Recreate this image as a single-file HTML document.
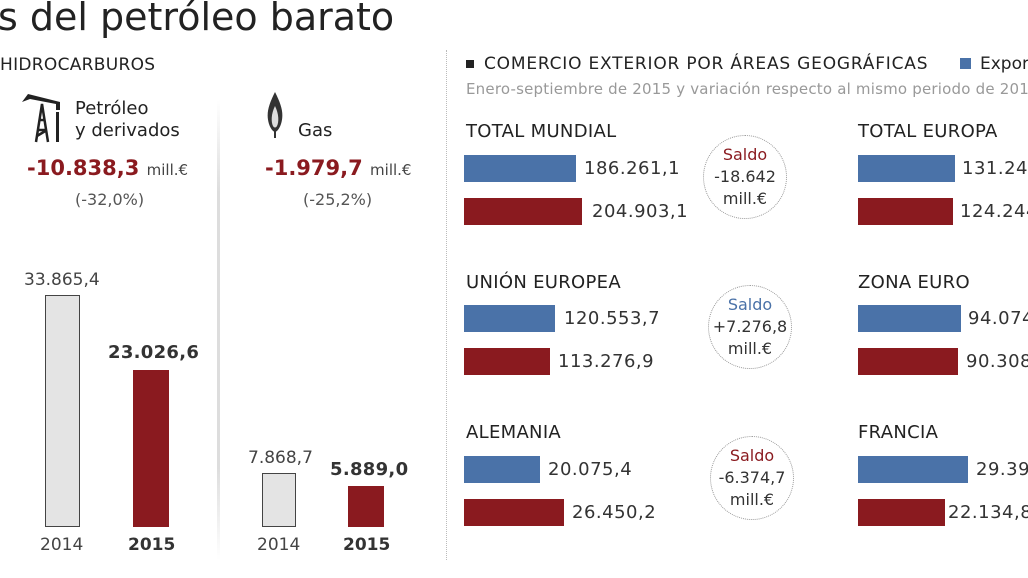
<!DOCTYPE html>
<html><head><meta charset="utf-8">
<style>
*{margin:0;padding:0;box-sizing:border-box}
body{width:1028px;height:578px;background:#fff;position:relative;overflow:hidden;font-family:"DejaVu Sans",sans-serif;color:#333}
.a{position:absolute;white-space:nowrap}
.bl{background:#4a72a8;position:absolute}
.rd{background:#8a1a1f;position:absolute}
.h{font-size:18px;color:#222;letter-spacing:0.3px}
.v{font-size:18px;color:#333;letter-spacing:0.5px}
.c{position:absolute;width:84px;height:84px;border:1.5px dotted #999;border-radius:50%;text-align:center;font-size:16px;line-height:22px;padding-top:8px;color:#333}
</style></head><body>
<div class="a" style="left:-2px;top:-5px;font-size:38px;color:#222">s del petróleo barato</div>
<div class="a" style="left:0;top:55px;font-size:17px;color:#222;letter-spacing:0.3px">HIDROCARBUROS</div>

<svg class="a" style="left:20px;top:90px" width="44" height="56" viewBox="0 0 44 56">
<path d="M2 12 L8 4 L40 12 L40 20 L36 20 L36 14 L10 9 Z" fill="#222"/>
<path d="M16 52 L22 14 L28 52 M18 40 L26 40 M19 30 L25 30 M17 46 L27 40" stroke="#222" stroke-width="2.5" fill="none"/>
<rect x="36" y="22" width="3" height="30" fill="#222"/>
</svg>
<div class="a" style="left:75px;top:98px;font-size:18px;color:#222;line-height:22px">Petróleo<br>y derivados</div>
<div class="a" style="left:27px;top:156px;font-size:21px;color:#8a1a1f;font-weight:bold">-10.838,3 <span style="font-size:15px;color:#444;font-weight:normal">mill.€</span></div>
<div class="a" style="left:75px;top:190px;font-size:16px;color:#555">(-32,0%)</div>

<div class="a" style="left:217px;top:100px;width:3px;height:460px;background:linear-gradient(#fff,#ddd 20%,#ddd 80%,#fff)"></div>

<svg class="a" style="left:266px;top:92px" width="18" height="48" viewBox="0 0 18 48">
<path d="M9 0 C2 14 0 22 3 32 C5 38 8 40 9 40 C10 40 13 38 15 32 C18 22 16 14 9 0Z" fill="#333"/>
<path d="M9 14 C5 22 5 30 7 34 C8 36 10 36 11 34 C13 30 13 22 9 14Z" fill="#ddd"/>
<rect x="8" y="38" width="2" height="8" fill="#333"/>
</svg>
<div class="a" style="left:298px;top:120px;font-size:18px;color:#222">Gas</div>
<div class="a" style="left:265px;top:156px;font-size:21px;color:#8a1a1f;font-weight:bold">-1.979,7 <span style="font-size:15px;color:#444;font-weight:normal">mill.€</span></div>
<div class="a" style="left:303px;top:190px;font-size:16px;color:#555">(-25,2%)</div>

<div class="a" style="left:24px;top:270px;font-size:17px;color:#444">33.865,4</div>
<div class="a" style="left:45px;top:295px;width:35px;height:232px;background:#e4e4e4;border:1.5px solid #444"></div>
<div class="a" style="left:108px;top:342px;font-size:18px;font-weight:bold;color:#333;letter-spacing:0.3px">23.026,6</div>
<div class="rd" style="left:133px;top:370px;width:36px;height:157px"></div>
<div class="a" style="left:40px;top:535px;font-size:17px;color:#444">2014</div>
<div class="a" style="left:128px;top:535px;font-size:17px;font-weight:bold;color:#333">2015</div>

<div class="a" style="left:248px;top:448px;font-size:17px;color:#444">7.868,7</div>
<div class="a" style="left:262px;top:473px;width:34px;height:54px;background:#e4e4e4;border:1.5px solid #444"></div>
<div class="a" style="left:330px;top:459px;font-size:18px;font-weight:bold;color:#333;letter-spacing:0.3px">5.889,0</div>
<div class="rd" style="left:348px;top:486px;width:36px;height:41px"></div>
<div class="a" style="left:257px;top:535px;font-size:17px;color:#444">2014</div>
<div class="a" style="left:343px;top:535px;font-size:17px;font-weight:bold;color:#333">2015</div>

<div class="a" style="left:446px;top:50px;height:510px;border-left:1.5px dotted #bbb"></div>

<div class="a" style="left:466px;top:60px;width:8px;height:8px;background:#222"></div>
<div class="a" style="left:484px;top:54px;font-size:17px;color:#222;letter-spacing:0.8px">COMERCIO EXTERIOR POR ÁREAS GEOGRÁFICAS</div>
<div class="a" style="left:960px;top:58px;width:11px;height:11px;background:#4a72a8"></div>
<div class="a" style="left:980px;top:54px;font-size:17px;color:#222">Exportaciones</div>
<div class="a" style="left:466px;top:80px;font-size:15px;color:#999;letter-spacing:0.2px">Enero-septiembre de 2015 y variación respecto al mismo periodo de 2014</div>

<div class="a h" style="left:466px;top:121px">TOTAL MUNDIAL</div>
<div class="bl" style="left:464px;top:155px;width:112px;height:27px"></div>
<div class="a v" style="left:584px;top:158px">186.261,1</div>
<div class="rd" style="left:464px;top:198px;width:118px;height:27px"></div>
<div class="a v" style="left:592px;top:201px">204.903,1</div>
<div class="c" style="left:703px;top:135px"><span style="color:#8a1a1f">Saldo</span><br>-18.642<br>mill.€</div>

<div class="a h" style="left:858px;top:121px">TOTAL EUROPA</div>
<div class="bl" style="left:858px;top:155px;width:97px;height:27px"></div>
<div class="a v" style="left:962px;top:158px">131.244,1</div>
<div class="rd" style="left:858px;top:198px;width:95px;height:27px"></div>
<div class="a v" style="left:960px;top:201px">124.244,1</div>

<div class="a h" style="left:466px;top:272px">UNIÓN EUROPEA</div>
<div class="bl" style="left:464px;top:305px;width:91px;height:27px"></div>
<div class="a v" style="left:564px;top:308px">120.553,7</div>
<div class="rd" style="left:464px;top:348px;width:86px;height:27px"></div>
<div class="a v" style="left:558px;top:351px">113.276,9</div>
<div class="c" style="left:708px;top:285px"><span style="color:#4a72a8">Saldo</span><br>+7.276,8<br>mill.€</div>

<div class="a h" style="left:858px;top:272px">ZONA EURO</div>
<div class="bl" style="left:858px;top:305px;width:103px;height:27px"></div>
<div class="a v" style="left:968px;top:308px">94.074,1</div>
<div class="rd" style="left:858px;top:348px;width:100px;height:27px"></div>
<div class="a v" style="left:966px;top:351px">90.308,1</div>

<div class="a h" style="left:466px;top:422px">ALEMANIA</div>
<div class="bl" style="left:464px;top:456px;width:76px;height:27px"></div>
<div class="a v" style="left:548px;top:459px">20.075,4</div>
<div class="rd" style="left:464px;top:499px;width:100px;height:27px"></div>
<div class="a v" style="left:572px;top:502px">26.450,2</div>
<div class="c" style="left:710px;top:436px"><span style="color:#8a1a1f">Saldo</span><br>-6.374,7<br>mill.€</div>

<div class="a h" style="left:858px;top:422px">FRANCIA</div>
<div class="bl" style="left:858px;top:456px;width:110px;height:27px"></div>
<div class="a v" style="left:976px;top:459px">29.392,1</div>
<div class="rd" style="left:858px;top:499px;width:87px;height:27px"></div>
<div class="a v" style="left:948px;top:502px">22.134,8</div>
</body></html>
